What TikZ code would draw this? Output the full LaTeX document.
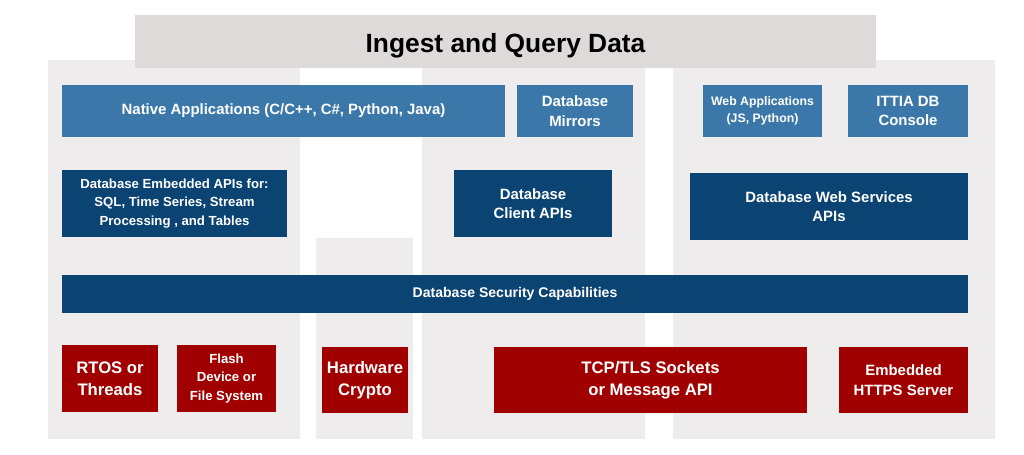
\documentclass[tikz,border=0pt]{standalone}
\usepackage{fontspec}
\setmainfont{Liberation Sans}
\usetikzlibrary{positioning}
\definecolor{panelgray}{HTML}{EEECED}
\definecolor{titlegray}{HTML}{DDDAD9}
\definecolor{lightblue}{HTML}{3B78A9}
\definecolor{darkblue}{HTML}{0B4373}
\definecolor{darkred}{HTML}{A10000}
\tikzset{
    x=0.02cm,
    y=-0.02cm,
    box/.style = {
        shape=rectangle,
        inner sep=0pt,
        text=white,
        align=center,
        font=\fontsize{8.5}{11}\selectfont\bfseries
    },
    upper/.style = {box, fill=lightblue},
    api/.style = {box, fill=darkblue},
    hw/.style = {box, fill=darkred, font=\fontsize{9.5}{12.5}\selectfont\bfseries},
}
\newcommand{\blk}[6]{%
    \node[#1, minimum width={(#4-#2)*0.02cm}, minimum height={(#5-#3)*0.02cm}]
        (#6) at ({(#2+#4)/2},{(#3+#5)/2})}
\begin{document}
\begin{tikzpicture}
    \useasboundingbox (0,0) rectangle (1024,454);
    % background panels
    \fill[panelgray] (48,60) rectangle (300,439);
    \fill[panelgray] (316,238) rectangle (413,439);
    \fill[panelgray] (422,60) rectangle (645,439);
    \fill[panelgray] (673,60) rectangle (995,439);
    \blk{box}{135}{15}{876}{68}{title} {};
    \fill[titlegray] (135,15) rectangle (876,68);
    \node[text=black, font=\fontsize{15}{16}\selectfont\bfseries] (titletext) at ([yshift=-2.5pt]title) {Ingest and Query Data};

    \blk{upper}{62}{85}{505}{137}{native} {Native Applications (C/C++, C\#, Python, Java)};
    \blk{upper}{517}{85}{633}{137}{mirrors} {Database\\Mirrors};
    \blk{upper, font=\fontsize{7}{10}\selectfont\bfseries}{703}{85}{822}{137}{webapps} {Web Applications\\(JS, Python)};
    \blk{upper}{848}{85}{968}{137}{console} {ITTIA DB\\Console};

    \blk{api, font=\fontsize{7.5}{10.5}\selectfont\bfseries}{62}{170}{287}{237}{embedded} {Database Embedded APIs for:\\SQL, Time Series, Stream\\Processing , and Tables};
    \blk{api}{454}{170}{612}{237}{client} {Database\\Client APIs};
    \blk{api}{690}{173}{968}{240}{websvc} {Database Web Services\\APIs};
    \blk{api, font=\fontsize{8}{10}\selectfont\bfseries}{62}{275}{968}{313}{security} {Database Security Capabilities};

    \blk{hw}{62}{345}{158}{412}{rtos} {RTOS or\\Threads};
    \blk{hw, font=\fontsize{7.5}{10.5}\selectfont\bfseries}{177}{345}{276}{412}{flash} {Flash\\Device or\\File System};
    \blk{hw}{322}{347}{408}{413}{crypto} {Hardware\\Crypto};
    \blk{hw}{494}{347}{807}{413}{tcp} {TCP/TLS Sockets\\or Message API};
    \blk{hw, font=\fontsize{8.5}{11}\selectfont\bfseries}{839}{347}{968}{413}{https} {Embedded\\HTTPS Server};
\end{tikzpicture}
\end{document}
